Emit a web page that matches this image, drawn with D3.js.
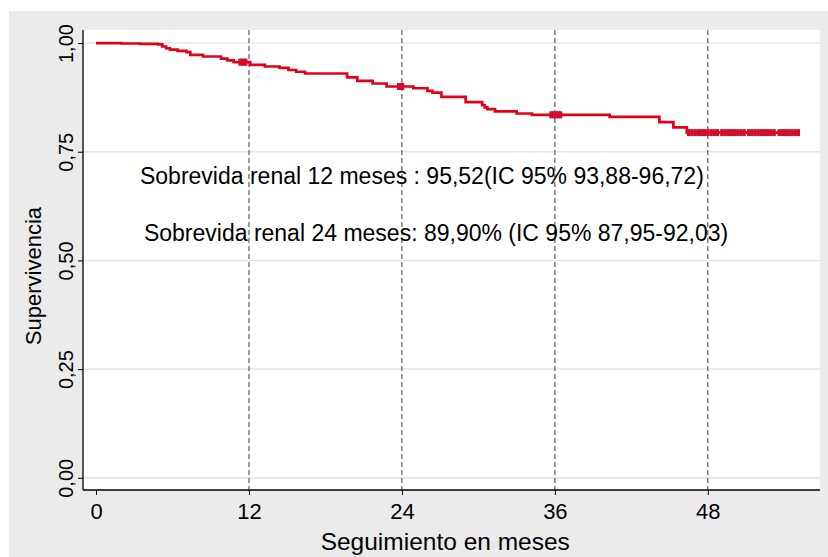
<!DOCTYPE html>
<html>
  <head>
  <title>Supervivencia renal</title>
  <style>
    body, html {
      margin: 0;
      padding: 0;
      background: #fff;
    }
    svg text {
      font-family: "Liberation Sans", Arial, sans-serif;
      fill: #000;
    }
  </style>
  </head>
  <body>

  <svg id="svg" width="828" height="557"></svg>

  <script src="https://d3js.org/d3.v7.min.js"></script>
  <script>
    // Kaplan-Meier curve: months and survival after each step
    const times = [0, 2.0, 3.45, 4.86, 5.2, 5.5, 5.8, 6.4, 7.1, 7.4, 8.4, 9.8, 10.3, 10.8,
      12.1, 13.25, 14.4, 15.1, 15.7, 16.4, 19.7, 20.5, 21.7, 22.8, 24.9, 26.0, 26.4, 27.1,
      29.0, 30.3, 30.5, 30.7, 31.3, 33.0, 34.2, 40.3, 44.2, 45.3, 46.35, 55.2]
    const survival = [1.0, 0.999, 0.998, 0.997, 0.992, 0.988, 0.985, 0.982, 0.979, 0.973, 0.969, 0.964, 0.960, 0.956,
      0.950, 0.946, 0.943, 0.938, 0.934, 0.930, 0.921, 0.913, 0.907, 0.900, 0.896, 0.890, 0.886, 0.876,
      0.864, 0.857, 0.852, 0.848, 0.843, 0.838, 0.835, 0.830, 0.818, 0.806, 0.794, 0.794]
    // censored observations (months)
    const censored = [11.3, 11.45, 11.6, 11.75, 23.75, 23.9, 24.05,
      35.7, 35.85, 36.0, 36.15, 36.3, 36.45,
      46.5, 46.75, 47, 47.25, 47.5, 47.75, 48, 48.25, 48.5, 48.75,
      49.1, 49.35, 49.6, 49.85, 50.1, 50.35, 50.6, 50.85,
      51.2, 51.45, 51.7, 51.95, 52.2, 52.45, 52.7, 52.95, 53.2,
      53.6, 53.85, 54.1, 54.35, 54.6, 54.85, 55.1]

    const xTicks = [0, 12, 24, 36, 48]
    const yTicks = [0, 0.25, 0.5, 0.75, 1]
    const notes = [
      { text: 'Sobrevida renal 12 meses : 95,52(IC 95% 93,88-96,72)', t: 3.45, s: 0.676 },
      { text: 'Sobrevida renal 24 meses: 89,90% (IC 95% 87,95-92,03)', t: 3.76, s: 0.545 }
    ]

    const data = times.map((t, i) => ({ t: t, s: survival[i] }))

    const W = 828, H = 557
    const margin = { top: 30, right: 8, bottom: 67, left: 83 }
    const width = W - margin.left - margin.right
    const height = H - margin.top - margin.bottom

    const x = d3.scaleLinear()
      .domain([-1.02, 56.8])
      .range([margin.left, margin.left + width])
    const y = d3.scaleLinear()
      .domain([-0.028, 1.03])
      .range([margin.top + height, margin.top])

    const svg = d3.select('#svg')

    // outer grey frame
    svg.append('rect')
      .attr('x', 9).attr('y', 11)
      .attr('width', W - 9).attr('height', H - 11)
      .attr('fill', '#ebebeb')

    // plot region
    svg.append('rect')
      .attr('x', margin.left).attr('y', margin.top)
      .attr('width', width).attr('height', height)
      .attr('fill', '#fff')

    // horizontal grid
    svg.append('g')
      .selectAll('line')
      .data(yTicks)
      .enter()
      .append('line')
      .attr('x1', margin.left).attr('x2', margin.left + width)
      .attr('y1', d => y(d)).attr('y2', d => y(d))
      .attr('stroke', '#e6e6e6')
      .attr('stroke-width', 1.6)

    // vertical dashed reference lines
    svg.append('g')
      .selectAll('line')
      .data(xTicks.filter(d => d > 0))
      .enter()
      .append('line')
      .attr('x1', d => x(d)).attr('x2', d => x(d))
      .attr('y1', margin.top).attr('y2', margin.top + height)
      .attr('stroke', '#3c3c3c')
      .attr('stroke-width', 1)
      .attr('stroke-dasharray', '5,3')

    // survival curve
    const line = d3.line()
      .x(d => x(d.t))
      .y(d => y(d.s))
      .curve(d3.curveStepAfter)

    svg.append('path')
      .datum(data)
      .attr('d', line)
      .attr('fill', 'none')
      .attr('stroke', '#e2001a')
      .attr('stroke-width', 2.7)

    // censoring marks
    const bis = d3.bisector(d => d.t).right
    const survAt = t => data[Math.max(0, bis(data, t) - 1)].s

    svg.append('g')
      .selectAll('line')
      .data(censored)
      .enter()
      .append('line')
      .attr('x1', d => x(d)).attr('x2', d => x(d))
      .attr('y1', d => y(survAt(d)) - 3.5)
      .attr('y2', d => y(survAt(d)) + 3.5)
      .attr('stroke', '#d20c30')
      .attr('stroke-width', 3.4)

    // axes
    const bottomAxis = d3.axisBottom(x)
      .tickValues(xTicks)
      .tickSize(5)
      .tickSizeOuter(0)
      .tickFormat(d3.format('d'))
    const leftAxis = d3.axisLeft(y)
      .tickValues(yTicks)
      .tickSize(5)
      .tickSizeOuter(0)
      .tickFormat(d => d.toFixed(2).replace('.', ','))

    const gx = svg.append('g')
      .attr('transform', `translate(0, ${margin.top + height})`)
      .call(bottomAxis)
    gx.select('.domain').remove()
    gx.selectAll('line').attr('stroke', '#000')
    gx.selectAll('text')
      .attr('font-size', 22)
      .attr('dy', null)
      .attr('y', 29)
      .attr('font-family', '"Liberation Sans", Arial, sans-serif')

    const gy = svg.append('g')
      .attr('transform', `translate(${margin.left}, 0)`)
      .call(leftAxis)
    gy.select('.domain').remove()
    gy.selectAll('line').attr('stroke', '#000')
    gy.selectAll('text')
      .attr('font-size', 20)
      .attr('x', null)
      .attr('dy', null)
      .attr('text-anchor', 'middle')
      .attr('transform', 'translate(-10, 0) rotate(-90)')
      .attr('font-family', '"Liberation Sans", Arial, sans-serif')

    // axis lines spanning whole plot region
    svg.append('line')
      .attr('x1', margin.left).attr('x2', margin.left)
      .attr('y1', margin.top).attr('y2', margin.top + height)
      .attr('stroke', '#000').attr('stroke-width', 1.3)
    svg.append('line')
      .attr('x1', margin.left).attr('x2', margin.left + width)
      .attr('y1', margin.top + height).attr('y2', margin.top + height)
      .attr('stroke', '#000').attr('stroke-width', 1.3)

    // axis titles
    svg.append('text')
      .attr('x', x(27.4))
      .attr('y', 550)
      .attr('text-anchor', 'middle')
      .attr('font-size', 24.5)
      .text('Seguimiento en meses')
    svg.append('text')
      .attr('transform', `translate(41, ${y(0.464)}) rotate(-90)`)
      .attr('text-anchor', 'middle')
      .attr('font-size', 22)
      .text('Supervivencia')

    // annotations
    svg.append('g')
      .selectAll('text')
      .data(notes)
      .enter()
      .append('text')
      .attr('x', d => x(d.t))
      .attr('y', d => y(d.s))
      .attr('font-size', 23)
      .text(d => d.text)
  </script>
  </body>
</html>
